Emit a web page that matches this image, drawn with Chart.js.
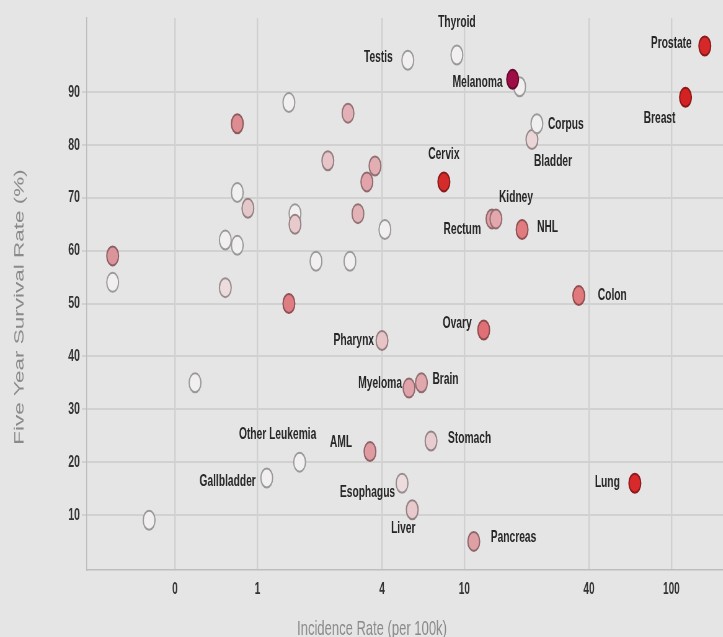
<!DOCTYPE html>
<html><head><meta charset="utf-8">
<script src="https://cdn.jsdelivr.net/npm/chart.js@4/dist/chart.umd.min.js"></script>
<style>
html,body{margin:0;padding:0;background:#e5e5e5;overflow:hidden;width:723px;height:637px;}
#wrap{position:absolute;left:0;top:0;width:1166px;height:637px;transform:scaleX(0.62);transform-origin:0 0;}
canvas{display:block;}
</style></head><body>
<div id="wrap"><canvas id="c" width="1166" height="637"></canvas></div>
<script>
// ---- data ----
const cancerNames = ['', '', '', '', '', '', '', '', '', '', 'Gallbladder', '', '', '', '', 'Other Leukemia', '', '', '', '', '', '', 'AML', '', 'Pharynx', '', 'Esophagus', 'Testis', 'Myeloma', 'Liver', 'Brain', 'Stomach', 'Cervix', 'Thyroid', 'Pancreas', 'Ovary', 'Rectum', 'Kidney', '', 'Melanoma', 'NHL', 'Bladder', 'Corpus', 'Colon', 'Lung', 'Breast', 'Prostate'];
const incidenceRate = [0.20, 0.20, 0.30, 0.50, 0.70, 0.70, 0.80, 0.80, 0.80, 0.90, 1.11, 1.42, 1.42, 1.52, 1.52, 1.6, 1.92, 2.19, 2.74, 2.80, 3.06, 3.38, 3.5, 3.70, 4.0, 4.13, 5.0, 5.33, 5.4, 5.6, 6.2, 6.9, 7.96, 9.2, 11.1, 12.4, 13.6, 14.2, 18.5, 17.1, 19.0, 21.2, 22.4, 35.7, 66.6, 117, 145];
const survivalRate = [59, 54, 9, 35, 62, 53, 84, 71, 61, 68, 17, 88, 50, 67, 65, 20, 58, 77, 86, 58, 67, 73, 22, 76, 43, 64, 16, 96, 34, 11, 35, 24, 73, 97, 5, 45, 66, 66, 91, 92.4, 64, 81, 84, 51.5, 16, 89, 98.7];
const xTickValues = [0.4, 1, 4, 10, 40, 100];
const xTickLabels = ['0', '1', '4', '10', '40', '100'];
const yTickValues = [10, 20, 30, 40, 50, 60, 70, 80, 90];
const xTitle = 'Incidence Rate (per 100k)';
const yTitle = 'Five Year Survival Rate (%)';

// ---- styles ----
const pointFills = ['#da959b', '#f1efef', '#f1efef', '#f1efef', '#f1efef', '#ecdcde', '#dd8c91', '#f1efef', '#f1efef', '#e4c7c9', '#f1efef', '#f1efef', '#de7d83', '#f1efef', '#e8c9cc', '#f1efef', '#f1efef', '#e6c4c7', '#e2b0b6', '#f1efef', '#e2b2b6', '#e0a4aa', '#de9ba1', '#e2aeb3', '#e8c4c7', '#f1efef', '#ecdcde', '#f1efef', '#dfa3a9', '#e8c9cc', '#e0a8ad', '#e8cdd0', '#d52b2b', '#f1efef', '#dea0a5', '#df7075', '#e0a0a6', '#e2a8ad', '#f1efef', '#9e0d45', '#e07c80', '#ebd5d7', '#f1efef', '#e0787c', '#d8292b', '#d42222', '#d62828'];
// label offsets in final screen px: [dx, dy, align]
const labelPlacement = {
  'Thyroid': [0, -33, 'center'], 'Testis': [-15, -3, 'right'], 'Melanoma': [-10, 3, 'right'],
  'Corpus': [11, 1, 'left'], 'Bladder': [2, 22, 'left'], 'Cervix': [0, -27, 'center'],
  'Kidney': [3, -21, 'left'], 'Rectum': [-11, 11, 'right'], 'NHL': [15, -2, 'left'],
  'Colon': [19, 0, 'left'], 'Prostate': [-13, -3, 'right'], 'Breast': [-10, 21, 'right'],
  'Ovary': [-12, -7, 'right'], 'Pharynx': [-8, 0, 'right'], 'Myeloma': [-7, -5, 'right'],
  'Brain': [11, -3, 'left'], 'Stomach': [17, -3, 'left'], 'AML': [-18, -9, 'right'],
  'Other Leukemia': [-22, -28, 'center'], 'Gallbladder': [-11, 3, 'right'], 'Esophagus': [-7, 9, 'right'],
  'Liver': [-9, 19, 'center'], 'Pancreas': [17, -4, 'left'], 'Lung': [-15, -1, 'right']
};
const SQ = 0.62;
const FONT = '"Liberation Sans", Arial, sans-serif';

function darken(hex, f) {
  const n = parseInt(hex.slice(1), 16);
  const r = Math.round(((n >> 16) & 255) * f), g = Math.round(((n >> 8) & 255) * f), b = Math.round((n & 255) * f);
  return 'rgb(' + r + ',' + g + ',' + b + ')';
}
const pointBorders = pointFills.map(c => darken(c, 0.64));

const labelPlugin = {
  id: 'cancerLabels',
  afterDatasetsDraw(chart) {
    const ctx = chart.ctx, meta = chart.getDatasetMeta(0);
    ctx.save();
    ctx.font = 'bold 16.5px ' + FONT;
    ctx.fillStyle = '#262626';
    ctx.textBaseline = 'middle';
    cancerNames.forEach((n, i) => {
      if (!n) return;
      const p = labelPlacement[n], el = meta.data[i];
      ctx.textAlign = p[2];
      ctx.fillText(n, el.x + p[0] / SQ, el.y + p[1]);
    });
    // axis titles
    ctx.fillStyle = '#8a8a8a';
    ctx.textAlign = 'center';
    ctx.font = '21px ' + FONT;
    ctx.fillText(xTitle, 372 / SQ, 629);
    ctx.translate(20 / SQ, 307);
    ctx.rotate(-Math.PI / 2);
    ctx.font = '22.5px ' + FONT;
    ctx.fillText(yTitle, 0, 0);
    ctx.restore();
  }
};

new Chart(document.getElementById('c'), {
  type: 'scatter',
  data: {
    datasets: [{
      data: incidenceRate.map((x, i) => ({ x: x, y: survivalRate[i] })),
      backgroundColor: pointFills,
      borderColor: pointBorders,
      pointRadius: 9.5,
      pointHoverRadius: 9.5,
      pointBorderWidth: 2
    }]
  },
  options: {
    responsive: false,
    animation: false,
    events: [],
    layout: { autoPadding: false, padding: { top: 18, left: 0, right: 0, bottom: 0 } },
    plugins: { legend: { display: false }, tooltip: { enabled: false } },
    scales: {
      x: {
        type: 'logarithmic',
        min: 0.150, max: 177.4,
        afterBuildTicks: s => { s.ticks = xTickValues.map(v => ({ value: v })); },
        afterFit: s => { s.height = 67; s.paddingLeft = 0; s.paddingRight = 0; },
        grid: { color: '#d0d0d0', lineWidth: 2.4, drawTicks: true, tickLength: 10, tickColor: 'rgba(0,0,0,0)' },
        border: { display: true, color: '#bdbdbd', width: 1.5 },
        ticks: {
          autoSkip: false, maxRotation: 0, padding: 0,
          color: '#333', font: { family: FONT, size: 16, weight: 'bold' },
          callback: (v, i) => xTickLabels[i]
        },
        title: { display: false }
      },
      y: {
        min: -0.4, max: 104,
        afterBuildTicks: s => { s.ticks = yTickValues.map(v => ({ value: v })); },
        afterFit: s => { s.width = 140; },
        grid: { color: '#d1d1d1', lineWidth: 2, drawTicks: true, tickLength: 8 },
        border: { display: true, color: '#bdbdbd', width: 1.5 },
        ticks: {
          padding: 3, color: '#333', font: { family: FONT, size: 17, weight: 'bold' },
          callback: v => String(v)
        }
      }
    }
  },
  plugins: [labelPlugin]
});
</script>
</body></html>
